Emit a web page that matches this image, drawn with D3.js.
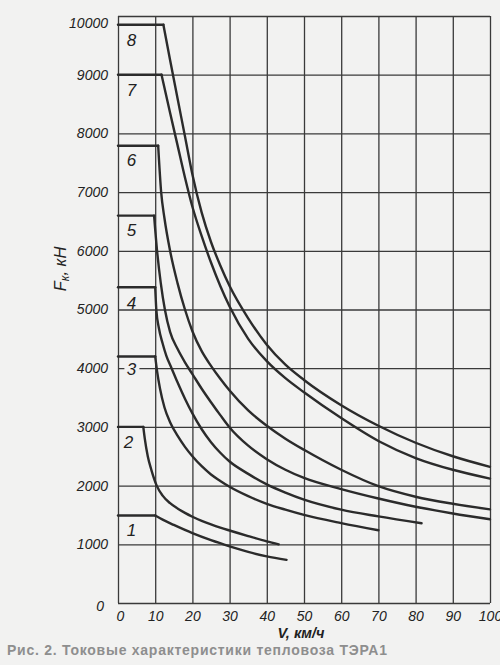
<!DOCTYPE html>
<html><head><meta charset="utf-8">
<script src="https://cdn.jsdelivr.net/npm/d3@7"></script>
<style>
body{margin:0;background:#f2f2f1;}
svg{display:block;}
</style></head>
<body>
<svg id="c" width="500" height="665"></svg>
<script>
// ---- data ----
const xTicks = [0,10,20,30,40,50,60,70,80,90,100];
const yTicks = [0,1000,2000,3000,4000,5000,6000,7000,8000,9000,10000];
const curveNames = ["1","2","3","4","5","6","7","8"];

const v1 = [0,10,12,15,20,25,30,35,40,45.3];
const f1 = [1490,1490,1420,1330,1190,1070,965,870,795,735];

const v2 = [0,6.8,7.2,8,9,10.4,12,14,16,18,20,22.5,25,27.5,30,35,40,43.2];
const f2 = [3000,3000,2800,2500,2260,2000,1830,1700,1610,1535,1470,1400,1340,1285,1235,1140,1050,1000];

const v3 = [0,10,10.5,11.3,12.5,14,16,18,20,22.5,25,27.5,30,35,40,45,50,60,70];
const f3 = [4200,4200,3950,3650,3330,3080,2850,2660,2500,2330,2190,2080,1980,1820,1690,1590,1500,1360,1240];

const v4 = [0,10,10.3,11,12,13,14.4,16,18,20,22.5,25,27.5,30,35,40,45,50,60,70,81.6];
const f4 = [5380,5380,5000,4680,4420,4210,4000,3760,3480,3230,2960,2740,2560,2410,2200,2020,1880,1760,1590,1475,1358];

const v5 = [0,9.7,10.5,11.5,12.6,14,16,18,20,22.5,25,27.5,30,35,40,45,50,60,70,80,90,100];
const f5 = [6600,6600,6000,5450,5000,4620,4330,4100,3900,3650,3420,3200,2990,2680,2450,2270,2130,1940,1780,1640,1525,1426];

const v6 = [0,10.8,11.6,12.5,14,16,18,20,22.5,25,27.5,30,35,40,45,50,60,70,80,90,100];
const f6 = [7790,7790,7000,6550,6000,5450,5000,4630,4290,4040,3820,3620,3280,3020,2800,2610,2270,1990,1810,1690,1596];

const v7 = [0,11.7,14,16,18,20,22.5,25,27.5,30,35,40,45,50,60,70,80,90,100];
const f7 = [9000,9000,8350,7800,7250,6750,6250,5800,5400,5050,4500,4120,3830,3590,3150,2760,2470,2270,2120];

const v8 = [0,12.2,14,16,18,20,22.5,25,27.5,30,35,40,45,50,60,70,80,90,100];
const f8 = [9850,9850,9250,8600,7950,7300,6650,6150,5750,5400,4850,4400,4060,3800,3370,3020,2730,2500,2320];

const speeds = [v1,v2,v3,v4,v5,v6,v7,v8];
const forces = [f1,f2,f3,f4,f5,f6,f7,f8];

// ---- drawing ----
const svg = d3.select("#c");
const x = d3.scaleLinear().domain([0,100]).range([118,490]);
const y = d3.scaleLinear().domain([0,10000]).range([603,16]);
const ink = "#2b2b2b";
const font = "'Liberation Sans', Arial, sans-serif";

// grid via axes
const gx = svg.append("g").attr("transform",`translate(0,${y(0)})`)
  .call(d3.axisBottom(x).tickValues(xTicks).tickSize(-(y(0)-y(10000))).tickPadding(8).tickFormat(d3.format("d")));
const gy = svg.append("g").attr("transform",`translate(${x(0)},0)`)
  .call(d3.axisLeft(y).tickValues(yTicks).tickSize(-(x(100)-x(0))).tickPadding(10).tickFormat(d3.format("d")));
[gx,gy].forEach(g=>{
  g.select(".domain").remove();
  g.selectAll(".tick line").attr("stroke","#3a3a3a").attr("stroke-width",1.3);
  g.selectAll(".tick text").attr("fill","#222").style("font-family",font)
    .style("font-style","italic").style("font-size","14px");
});
gy.selectAll(".tick").filter(d=>d===10000).select("text").attr("dy","0.85em");
gy.selectAll(".tick").filter(d=>d===0).select("text").attr("x",-14).attr("dy","0.55em");
gx.selectAll(".tick").filter(d=>d===0).select("text").attr("x",2);

// curves
const flatLine = d3.line().x(d=>x(d[0])).y(d=>y(d[1]));
const tailLine = d3.line().x(d=>x(d[0])).y(d=>y(d[1])).curve(d3.curveMonotoneX);
speeds.forEach((vs,i)=>{
  const pts = vs.map((v,j)=>[v,forces[i][j]]);
  svg.append("path").attr("d",flatLine(pts.slice(0,2)))
    .attr("fill","none").attr("stroke",ink).attr("stroke-width",2.4).attr("stroke-linecap","round");
  svg.append("path").attr("d",tailLine(pts.slice(1)))
    .attr("fill","none").attr("stroke",ink).attr("stroke-width",2.4).attr("stroke-linecap","round");
});

// curve labels
const labelPos = [[3.6,1250],[2.8,2740],[3.6,3990],[3.6,5120],[3.6,6350],[3.6,7550],[3.6,8740],[3.6,9590]];
curveNames.forEach((n,i)=>{
  const [lv,lf] = labelPos[i];
  if(n==="3"){
    svg.append("rect").attr("x",x(lv)-7).attr("y",y(lf)-6).attr("width",15).attr("height",12).attr("fill","#f2f2f1");
  }
  svg.append("text").attr("x",x(lv)).attr("y",y(lf)).attr("dy","0.36em")
    .attr("text-anchor","middle").style("font-family",font).style("font-style","italic")
    .style("font-size","17px").attr("fill","#222").text(n);
});

// axis titles
svg.append("text").attr("x",301).attr("y",638).attr("text-anchor","middle")
  .style("font-family",font).style("font-style","italic").style("font-weight","bold")
  .style("font-size","14.5px").attr("fill","#222").text("V, км/ч");

const yt = svg.append("text").attr("transform","translate(66,269) rotate(-90)")
  .attr("text-anchor","middle").style("font-family",font).style("font-style","italic")
  .style("font-size","16.5px").attr("fill","#222");
yt.append("tspan").text("F");
yt.append("tspan").attr("dy","3").style("font-size","12px").text("к");
yt.append("tspan").attr("dy","-3").text(", кН");

// caption
svg.append("text").attr("x",7).attr("y",655)
  .attr("textLength",380).attr("lengthAdjust","spacing")
  .style("font-family",font).style("font-weight","bold").style("font-size","14px")
  .attr("fill","#8e8e8e").text("Рис. 2. Токовые характеристики тепловоза ТЭРА1");
</script>
</body></html>
